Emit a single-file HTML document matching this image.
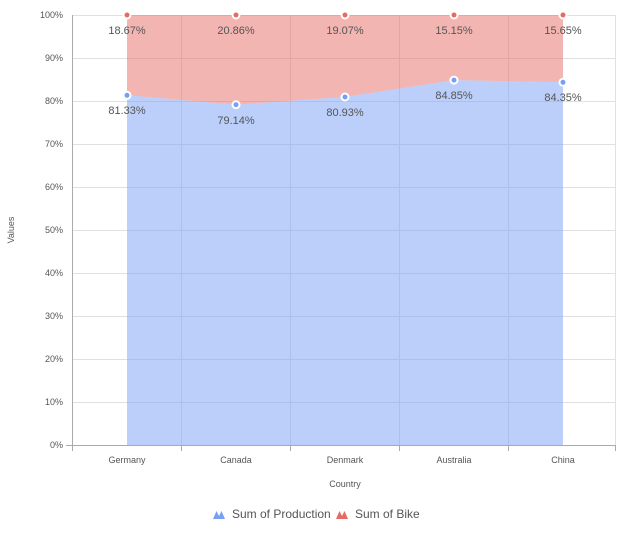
<!DOCTYPE html>
<html><head><style>
body{margin:0;background:#fff;}
svg text{font-family:"Liberation Sans",sans-serif;}
</style></head><body>
<svg width="630" height="534" xmlns="http://www.w3.org/2000/svg">
<rect width="630" height="534" fill="#fff"/>
<g stroke="#e0e0e0" stroke-width="1">
<line x1="72" y1="15.5" x2="615" y2="15.5"/>
<line x1="72" y1="58.5" x2="615" y2="58.5"/>
<line x1="72" y1="101.5" x2="615" y2="101.5"/>
<line x1="72" y1="144.5" x2="615" y2="144.5"/>
<line x1="72" y1="187.5" x2="615" y2="187.5"/>
<line x1="72" y1="230.5" x2="615" y2="230.5"/>
<line x1="72" y1="273.5" x2="615" y2="273.5"/>
<line x1="72" y1="316.5" x2="615" y2="316.5"/>
<line x1="72" y1="359.5" x2="615" y2="359.5"/>
<line x1="72" y1="402.5" x2="615" y2="402.5"/>
<line x1="181.5" y1="15" x2="181.5" y2="445"/>
<line x1="290.5" y1="15" x2="290.5" y2="445"/>
<line x1="399.5" y1="15" x2="399.5" y2="445"/>
<line x1="508.5" y1="15" x2="508.5" y2="445"/>
<line x1="615.5" y1="15" x2="615.5" y2="445"/>
</g>
<path d="M127,15 L563,15 L563,82.3 L454,80.1 L345,97 L236,104.7 L127,95.3 Z" fill="#e56b63" fill-opacity="0.5"/>
<path d="M127,95.3 L236,104.7 L345,97 L454,80.1 L563,82.3 L563,445 L127,445 Z" fill="#77a0f5" fill-opacity="0.5"/>
<line x1="72.5" y1="15" x2="72.5" y2="445" stroke="#aaa"/>
<line x1="66" y1="445.5" x2="615" y2="445.5" stroke="#aaa"/>
<g stroke="#aaa">
<line x1="72.5" y1="445" x2="72.5" y2="451"/><line x1="181.5" y1="445" x2="181.5" y2="451"/>
<line x1="290.5" y1="445" x2="290.5" y2="451"/><line x1="399.5" y1="445" x2="399.5" y2="451"/>
<line x1="508.5" y1="445" x2="508.5" y2="451"/><line x1="615.5" y1="445" x2="615.5" y2="451"/>
</g>
<g font-size="9" fill="#555" text-anchor="end">
<text x="63" y="18">100%</text><text x="63" y="61">90%</text><text x="63" y="104">80%</text>
<text x="63" y="147">70%</text><text x="63" y="190">60%</text><text x="63" y="233">50%</text>
<text x="63" y="276">40%</text><text x="63" y="319">30%</text><text x="63" y="362">20%</text>
<text x="63" y="405">10%</text><text x="63" y="448">0%</text>
</g>
<g font-size="9" fill="#555" text-anchor="middle">
<text x="127" y="463">Germany</text><text x="236" y="463">Canada</text><text x="345" y="463">Denmark</text>
<text x="454" y="463">Australia</text><text x="563" y="463">China</text>
<text x="345" y="487">Country</text>
<text transform="translate(14,230) rotate(-90)">Values</text>
</g>
<g fill="#e56b63" stroke="#fff" stroke-width="2">
<circle cx="127" cy="15" r="3.5"/><circle cx="236" cy="15" r="3.5"/><circle cx="345" cy="15" r="3.5"/><circle cx="454" cy="15" r="3.5"/><circle cx="563" cy="15" r="3.5"/>
</g>
<g fill="#77a0f5" stroke="#fff" stroke-width="2">
<circle cx="127" cy="95.3" r="3.5"/><circle cx="236" cy="104.7" r="3.5"/><circle cx="345" cy="97" r="3.5"/><circle cx="454" cy="80.1" r="3.5"/><circle cx="563" cy="82.3" r="3.5"/>
</g>
<g font-size="11" fill="#555" text-anchor="middle">
<text x="127" y="34">18.67%</text><text x="236" y="34">20.86%</text><text x="345" y="34">19.07%</text><text x="454" y="34">15.15%</text><text x="563" y="34">15.65%</text>
<text x="127" y="114">81.33%</text><text x="236" y="124">79.14%</text><text x="345" y="116">80.93%</text><text x="454" y="99">84.85%</text><text x="563" y="101">84.35%</text>
</g>
<path d="M213,519 L216.5,511 L219,516 L221.5,511 L225,519 Z" fill="#77a0f5"/>
<path d="M336,519 L339.5,511 L342,516 L344.5,511 L348,519 Z" fill="#e56b63"/>
<g font-size="12" fill="#555">
<text x="232" y="518">Sum of Production</text>
<text x="355" y="518">Sum of Bike</text>
</g>
</svg>
</body></html>
